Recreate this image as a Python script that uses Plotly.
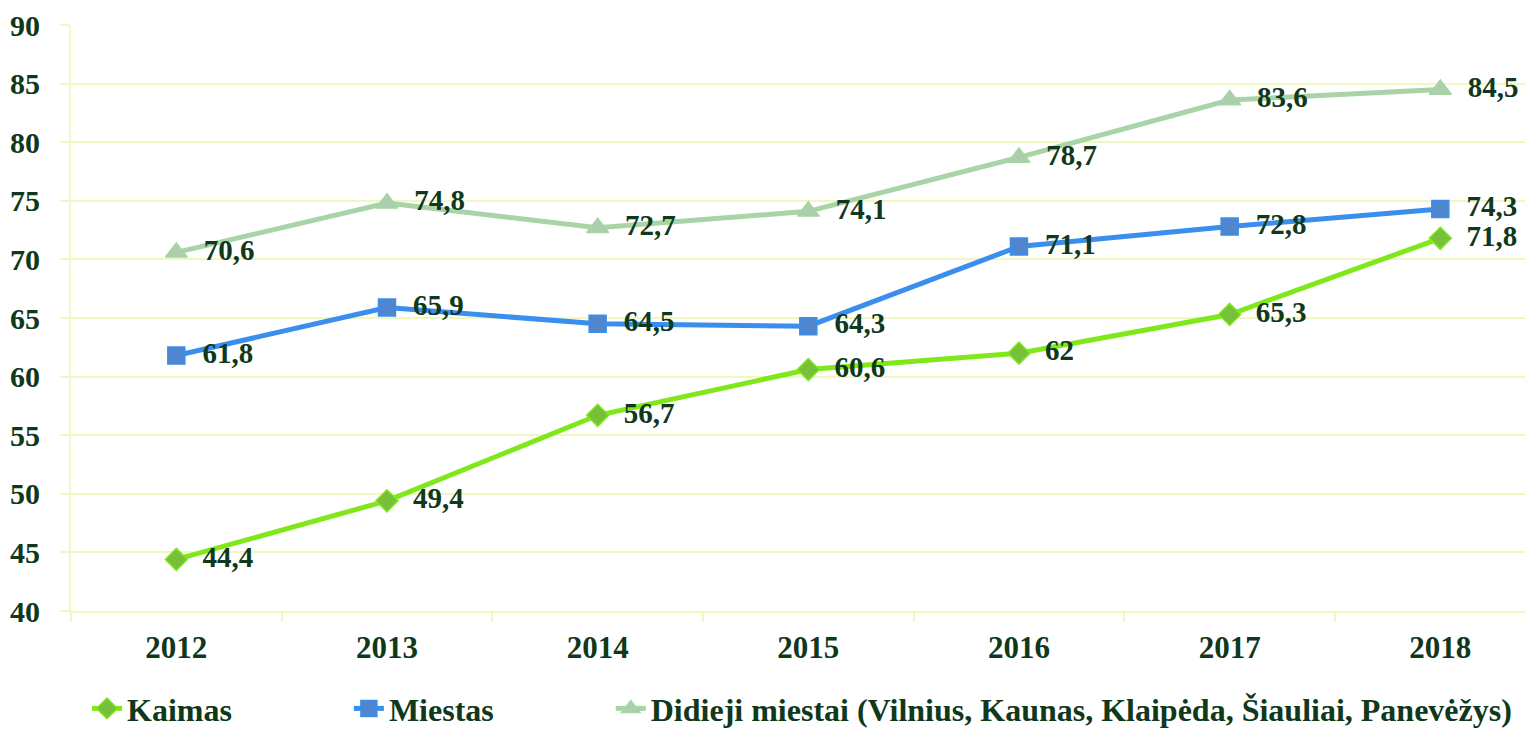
import plotly.graph_objects as go

years = ["2012", "2013", "2014", "2015", "2016", "2017", "2018"]
kaimas = [44.4, 49.4, 56.7, 60.6, 62, 65.3, 71.8]
miestas = [61.8, 65.9, 64.5, 64.3, 71.1, 72.8, 74.3]
didieji = [70.6, 74.8, 72.7, 74.1, 78.7, 83.6, 84.5]
y_ticks = [40, 45, 50, 55, 60, 65, 70, 75, 80, 85, 90]

FONT = "Liberation Serif"
TXT = "#10381a"
GRID = "#F0F8C0"
PAD = "\u00a0" * 14
LPAD = "\u00a0" * 2

def fmt(v):
    return str(v).replace(".", ",") if v != int(v) else str(int(v))

series = [
    ("Kaimas" + PAD, kaimas, "#80E81A", "#76C03A", "diamond", 17),
    ("Miestas" + PAD, miestas, "#3A8EED", "#4F86CD", "square", 17),
    ("Didieji miestai (Vilnius, Kaunas, Klaipėda, Šiauliai, Panevėžys)", didieji, "#A8D4A8", "#AACFAA", "triangle-up", 19),
]

fig = go.Figure()
for name, vals, lc, mc, sym, ms in series:
    fig.add_trace(go.Scatter(
        x=years, y=vals, name=name, mode="lines+markers+text",
        text=[LPAD + fmt(v) for v in vals], textposition="middle right",
        textfont=dict(family=FONT, size=29, color=TXT, weight="bold"),
        line=dict(color=lc, width=5),
        marker=dict(symbol=sym, size=ms, color=mc, line=dict(color=lc, width=1.5)),
        cliponaxis=False,
    ))

fig.update_layout(
    width=1525, height=726,
    margin=dict(l=63, r=0, t=17, b=123),
    paper_bgcolor="white", plot_bgcolor="white",
    font=dict(family=FONT, color=TXT, weight="bold"),
    showlegend=True,
    legend=dict(orientation="h", x=0.5, xanchor="center", yref="container", y=0.035, yanchor="middle",
                font=dict(family=FONT, size=32, color=TXT, weight="bold")),
)
fig.update_xaxes(
    type="category", range=[-0.5, 6.44], showgrid=False,
    showline=True, linecolor=GRID, linewidth=2,
    ticks="outside", tickson="boundaries", ticklen=9, tickcolor=GRID, tickwidth=2,
    tickfont=dict(family=FONT, size=31, color=TXT, weight="bold"), ticklabelstandoff=8,
)
fig.update_yaxes(
    range=[40, 90], tickvals=y_ticks, showgrid=True, gridcolor=GRID, gridwidth=2,
    showline=True, linecolor=GRID, linewidth=2, zeroline=False,
    ticks="outside", ticklen=9, tickcolor=GRID, tickwidth=2,
    tickfont=dict(family=FONT, size=30, color=TXT, weight="bold"), ticklabelstandoff=14,
)
fig.write_html("out.html")
